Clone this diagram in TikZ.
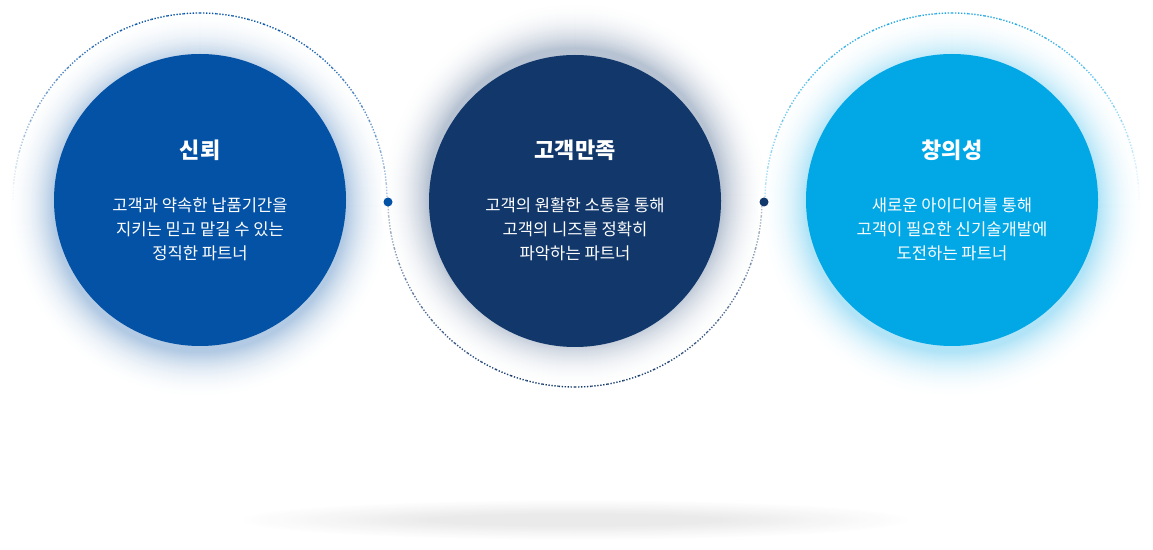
\documentclass[tikz,border=0pt]{standalone}
\usepackage{fontspec}
\setmainfont{Noto Sans CJK KR}
\usepackage{tikz}
\usetikzlibrary{positioning}

\definecolor{trustblue}{HTML}{0452A5}
\definecolor{carenavy}{HTML}{12386B}
\definecolor{ideasky}{HTML}{02A8E6}
\definecolor{ringsky}{HTML}{1FA8E3}

\tikzset{
  ringline/.style={line width=1.4pt, dash pattern=on 1.3pt off 1.7pt},
  titletext/.style={text=white, font=\fontsize{22}{26}\selectfont\bfseries},
  bodytext/.style={text=white, align=center, font=\fontsize{16.6}{24}\selectfont},
  joint/.style={circle, inner sep=0pt, minimum size=9pt}
}

\newcommand{\glowdisc}[4]{% center x, center y, colour, glow y shift
  \foreach \i in {48,47,...,1} {
    \pgfmathsetmacro\p{32*(1-\i/49)^2.2}
    \fill[#3!\p!white] (#1,#2+#4) circle (146+\i);
  }
  \fill[#3] (#1,#2) circle (146);
}

\begin{document}
\begin{tikzpicture}[x=1pt,y=1pt]
\useasboundingbox (0,0) rectangle (1153,549);
\fill[white] (0,0) rectangle (1153,549);

\foreach \i in {0,...,24} {
  \pgfmathsetmacro\p{0.34*\i}
  \fill[black!\p!white] (575,29) ellipse ({340-8*\i} and {20-0.6*\i});
}

\glowdisc{200}{349}{trustblue}{-6}
\glowdisc{575}{348}{carenavy}{6}
\glowdisc{952}{349}{ideasky}{-6}

\foreach \a in {0,5,...,175} {
  \pgfmathsetmacro\o{\a>90 ? sin(\a+2.5) : 0.3+0.7*sin(\a+2.5)}
  \draw[ringline, trustblue, draw opacity=\o] ([shift={(\a:187)}]200,349) arc (\a:\a+5:187);
}
\foreach \a in {180,185,...,355} {
  \pgfmathsetmacro\o{0.3+0.7*abs(sin(\a+2.5))}
  \draw[ringline, carenavy, draw opacity=\o] ([shift={(\a:187)}]575,349) arc (\a:\a+5:187);
}
\foreach \a in {0,5,...,175} {
  \pgfmathsetmacro\o{\a<90 ? sin(\a+2.5) : 0.3+0.7*sin(\a+2.5)}
  \draw[ringline, ringsky, draw opacity=\o] ([shift={(\a:187)}]952,349) arc (\a:\a+5:187);
}

\node[joint, fill=trustblue] (jointa) at (388,347) {};
\node[joint, fill=carenavy] (jointb) at (764,347) {};

\node[titletext] (trust) at (200,399) {신뢰};
\node[bodytext] (trustbody) at (200,320) {고객과 약속한 납품기간을\\지키는 믿고 맡길 수 있는\\정직한 파트너};

\node[titletext] (care) at (575,399) {고객만족};
\node[bodytext] (carebody) at (575,320) {고객의 원활한 소통을 통해\\고객의 니즈를 정확히\\파악하는 파트너};

\node[titletext] (idea) at (952,399) {창의성};
\node[bodytext] (ideabody) at (952,320) {새로운 아이디어를 통해\\고객이 필요한 신기술개발에\\도전하는 파트너};
\end{tikzpicture}
\end{document}
